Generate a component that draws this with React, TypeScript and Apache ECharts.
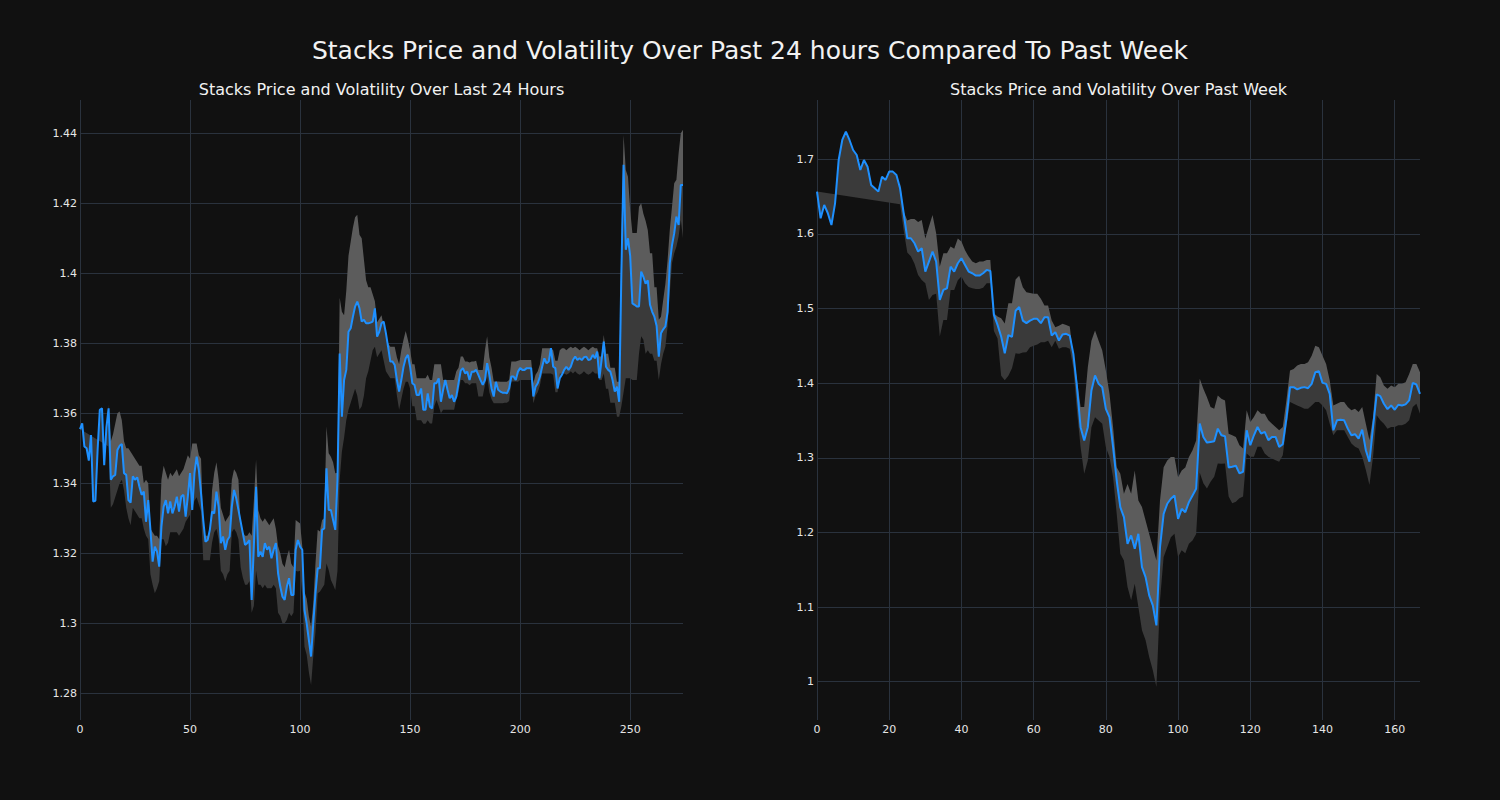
import React, { useEffect, useRef } from "react";
import * as echarts from "echarts";

const N = null;

// ---------- Left panel: last 24 hours ----------
const dayXTicks = [0, 50, 100, 150, 200, 250];
const dayYTicks = [1.28, 1.3, 1.32, 1.34, 1.36, 1.38, 1.4, 1.42, 1.44];

const dayPrice = [
  1.3555, 1.3571, 1.3505, 1.35, 1.3465, 1.3538, 1.3348, 1.335, 1.3495, 1.361,
  1.3614, 1.3452, 1.356, 1.3614, 1.341, 1.342, 1.3424, 1.3495, 1.3507, 1.3512,
  1.3429, 1.3424, 1.3352, 1.3345, 1.342, 1.341, 1.3417, 1.339, 1.3367, 1.3376,
  1.329, 1.3352, 1.3267, 1.3176, 1.3219, 1.3205, 1.3162, 1.3276, 1.3333, 1.3352,
  1.3314, 1.3348, 1.3314, 1.3333, 1.3362, 1.3319, 1.3362, 1.3367, 1.3305, 1.3362,
  1.3429, 1.3324, 1.3429, 1.3476, 1.3438, 1.3371, 1.3295, 1.3233, 1.3238, 1.3267,
  1.3319, 1.3314, 1.3376, 1.3333, 1.3229, 1.3248, 1.321, 1.3238, 1.3248, 1.3333,
  1.3381, 1.3357, 1.3324, 1.329, 1.3257, 1.3224, 1.3229, 1.3238, 1.3067, 1.322,
  1.339, 1.319, 1.3205, 1.319, 1.3229, 1.321, 1.3219, 1.3186, 1.321, 1.3229,
  1.3143, 1.3105, 1.3076, 1.3067, 1.3105, 1.3129, 1.3081, 1.3081, 1.321, 1.3238,
  1.3219, 1.321, 1.3038, 1.3, 1.2952, 1.2905, 1.3, 1.3086, 1.3157, 1.3157,
  1.3267, 1.3271, 1.3443, 1.3324, 1.3324, 1.3295, 1.3267, 1.341, 1.3771, 1.359,
  1.3695, 1.3724, 1.3833, 1.3843, 1.3876, 1.3905, 1.3919, 1.39, 1.3862, 1.3867,
  1.3857, 1.3857, 1.3859, 1.3862, 1.39, 1.3819, 1.3833, 1.3857, 1.3862, 1.3829,
  1.379, 1.3748, 1.3748, 1.3738, 1.3695, 1.3662, 1.3695, 1.3733, 1.3757, 1.3767,
  1.3733, 1.3686, 1.3681, 1.3652, 1.3652, 1.3671, 1.361, 1.361, 1.3657, 1.3619,
  1.3614, 1.3686, 1.3686, 1.37, 1.3633, 1.3667, 1.3695, 1.3667, 1.3643, 1.3652,
  1.3633, 1.3648, 1.3686, 1.3722, 1.3729, 1.3714, 1.3719, 1.3695, 1.3719, 1.3719,
  1.3724, 1.371, 1.3695, 1.3681, 1.3695, 1.3743, 1.371, 1.3671, 1.3648, 1.369,
  1.3667, 1.3662, 1.3659, 1.3659, 1.3657, 1.3671, 1.3705, 1.3705, 1.3695, 1.3719,
  1.3729, 1.3724, 1.3724, 1.3729, 1.3729, 1.3729, 1.3648, 1.3676, 1.3686, 1.3705,
  1.3733, 1.3757, 1.3743, 1.3748, 1.3786, 1.3733, 1.3729, 1.3671, 1.37, 1.371,
  1.3724, 1.3733, 1.3724, 1.3733, 1.3752, 1.3762, 1.3752, 1.3757, 1.3752, 1.376,
  1.3762, 1.3752, 1.3754, 1.3767, 1.3757, 1.3776, 1.37, 1.3752, 1.3805, 1.3733,
  1.3724, 1.3719, 1.3695, 1.3662, 1.3676, 1.3633, 1.4, 1.431, 1.4067, 1.41,
  1.405, 1.3914, 1.391, 1.3905, 1.3905, 1.4005, 1.399, 1.397, 1.398, 1.391,
  1.389, 1.3876, 1.385, 1.3762, 1.3829, 1.384, 1.3848, 1.389, 1.4029, 1.408,
  1.4114, 1.4162, 1.4138, 1.4252, 1.4252,
];

const dayUpper = [
  N, N, N, N, N, N, N, N, N, N,
  N, N, N, 1.3625, 1.352, 1.354, 1.357, 1.36, 1.3605, 1.358,
  1.352, 1.35, 1.35, 1.349, 1.348, 1.347, 1.346, 1.345, 1.345, 1.34,
  1.341, 1.34, 1.327, 1.326, 1.325, 1.325, 1.324, 1.341, 1.345, 1.343,
  1.341, 1.343, 1.342, 1.343, 1.344, 1.342, 1.343, 1.344, 1.346, 1.348,
  1.347, 1.3514, 1.3514, 1.3514, 1.348, 1.347, 1.327, 1.325, 1.325, 1.324,
  1.338, 1.343, 1.346, 1.341, 1.333, 1.331, 1.329, 1.33, 1.331, 1.341,
  1.344, 1.343, 1.341, 1.327, 1.326, 1.325, 1.325, 1.326, 1.325, 1.335,
  1.3467, 1.3324, 1.33, 1.329, 1.33, 1.329, 1.328, 1.329, 1.33, 1.327,
  1.322, 1.32, 1.317, 1.316, 1.319, 1.321, 1.317, 1.316, 1.3295, 1.329,
  1.3285, 1.322, 1.309, 1.307, 1.302, 1.299, 1.3057, 1.3171, 1.3267, 1.3262,
  1.3295, 1.33, 1.3562, 1.3486, 1.3476, 1.346, 1.3429, 1.343, 1.393, 1.389,
  1.388, 1.395, 1.405, 1.409, 1.413, 1.416, 1.4167, 1.411, 1.41, 1.404,
  1.398, 1.396, 1.396, 1.394, 1.392, 1.386, 1.387, 1.388, 1.385, 1.382,
  1.38, 1.379, 1.379, 1.379, 1.376, 1.374, 1.378, 1.381, 1.3835, 1.381,
  1.378, 1.374, 1.374, 1.37, 1.37, 1.37, 1.37, 1.37, 1.371, 1.3695,
  1.3695, 1.374, 1.374, 1.374, 1.374, 1.3695, 1.3695, 1.3695, 1.3695, 1.3695,
  1.3695, 1.372, 1.373, 1.3762, 1.3762, 1.3748, 1.3748, 1.3745, 1.3748, 1.3748,
  1.375, 1.3724, 1.3724, 1.3724, 1.378, 1.382, 1.376, 1.373, 1.3691, 1.3691,
  1.3691, 1.369, 1.369, 1.369, 1.369, 1.3695, 1.3748, 1.3748, 1.3748, 1.375,
  1.3752, 1.3752, 1.3752, 1.3752, 1.3752, 1.3752, 1.3686, 1.371, 1.372, 1.374,
  1.3786, 1.3786, 1.3786, 1.3786, 1.3786, 1.378, 1.375, 1.375, 1.378, 1.3786,
  1.3786, 1.378, 1.3786, 1.379, 1.3786, 1.379, 1.3786, 1.378, 1.3786, 1.379,
  1.3786, 1.378, 1.3786, 1.379, 1.3786, 1.3786, 1.3762, 1.3762, 1.3824, 1.377,
  1.377, 1.373, 1.373, 1.373, 1.369, 1.369, 1.41, 1.4395, 1.4295, 1.4276,
  1.418, 1.4115, 1.4115, 1.4115, 1.419, 1.42, 1.417, 1.415, 1.4124, 1.4057,
  1.4057, 1.396, 1.396, 1.3867, 1.3876, 1.3924, 1.397, 1.4038, 1.4124, 1.419,
  1.4257, 1.4267, 1.4343, 1.44, 1.441,
];

const dayLower = [
  N, N, N, N, N, N, N, N, N, N,
  N, N, N, 1.3505, 1.333, 1.334, 1.336, 1.338, 1.34, 1.341,
  1.338, 1.333, 1.33, 1.328, 1.333, 1.332, 1.331, 1.33, 1.33, 1.327,
  1.325, 1.324, 1.314, 1.311, 1.3086, 1.31, 1.312, 1.324, 1.324, 1.322,
  1.323, 1.326, 1.326, 1.326, 1.326, 1.325, 1.326, 1.327, 1.329, 1.33,
  1.331, 1.333, 1.335, 1.336, 1.334, 1.332, 1.318, 1.318, 1.318, 1.318,
  1.323, 1.326, 1.327, 1.324, 1.315, 1.314, 1.312, 1.314, 1.315, 1.326,
  1.327, 1.326, 1.324, 1.316, 1.313, 1.311, 1.311, 1.312, 1.303, 1.305,
  1.315, 1.311, 1.311, 1.31, 1.311, 1.31, 1.31, 1.31, 1.311, 1.31,
  1.303, 1.302, 1.3, 1.3, 1.301, 1.303, 1.302, 1.303, 1.315, 1.3148,
  1.315, 1.308, 1.2933, 1.291, 1.286, 1.2824, 1.2905, 1.2975, 1.3086, 1.309,
  1.31, 1.311, 1.3171, 1.3152, 1.3124, 1.311, 1.3095, 1.315, 1.341, 1.349,
  1.353, 1.358, 1.361, 1.363, 1.365, 1.367, 1.365, 1.361, 1.362, 1.365,
  1.37, 1.372, 1.375, 1.378, 1.379, 1.376, 1.377, 1.378, 1.375, 1.372,
  1.371, 1.37, 1.37, 1.37, 1.365, 1.361, 1.364, 1.367, 1.369, 1.369,
  1.367, 1.362, 1.362, 1.358, 1.358, 1.358, 1.357, 1.357, 1.358, 1.3571,
  1.3571, 1.362, 1.3638, 1.362, 1.36, 1.361, 1.361, 1.361, 1.361, 1.361,
  1.361, 1.364, 1.366, 1.3695, 1.3695, 1.3686, 1.3686, 1.368, 1.3686, 1.3686,
  1.3686, 1.3648, 1.3648, 1.3648, 1.368, 1.3705, 1.366, 1.364, 1.3629, 1.3629,
  1.3629, 1.3629, 1.3629, 1.363, 1.363, 1.3635, 1.3691, 1.3691, 1.3691, 1.369,
  1.3695, 1.3695, 1.3695, 1.3695, 1.3695, 1.3695, 1.3629, 1.365, 1.366, 1.368,
  1.3714, 1.3714, 1.3714, 1.3714, 1.3714, 1.371, 1.366, 1.366, 1.3714, 1.3714,
  1.3714, 1.371, 1.3714, 1.372, 1.3714, 1.372, 1.3714, 1.371, 1.3714, 1.372,
  1.3714, 1.371, 1.3714, 1.372, 1.3714, 1.3714, 1.3695, 1.3695, 1.3714, 1.367,
  1.367, 1.363, 1.363, 1.363, 1.359, 1.359, 1.362, 1.366, 1.37, 1.37,
  1.37, 1.3695, 1.3695, 1.3695, 1.377, 1.382, 1.381, 1.377, 1.378, 1.377,
  1.377, 1.375, 1.375, 1.3695, 1.374, 1.377, 1.379, 1.3848, 1.3943, 1.4029,
  1.4057, 1.4076, 1.4105, 1.4152, 1.41,
];

// straight edge of the shaded area before the rolling band starts
const dayBandAnchors = [
  [0, 1.3555],
  [13, 1.3505],
];

// ---------- Right panel: past week ----------
const weekXTicks = [0, 20, 40, 60, 80, 100, 120, 140, 160];
const weekYTicks = [1, 1.1, 1.2, 1.3, 1.4, 1.5, 1.6, 1.7];

const weekPrice = [
  1.6567, 1.621, 1.6388, 1.6277, 1.612, 1.641, 1.699, 1.7259, 1.737, 1.7259,
  1.7125, 1.7058, 1.6857, 1.699, 1.69, 1.6656, 1.6612, 1.6567, 1.6768, 1.6723,
  1.6835, 1.6835, 1.679, 1.6612, 1.6277, 1.5942, 1.5942, 1.5875, 1.5763, 1.5808,
  1.5496, 1.563, 1.5763, 1.563, 1.5116, 1.525, 1.5272, 1.5563, 1.5496, 1.5607,
  1.5674, 1.5585, 1.5496, 1.5473, 1.5442, 1.5442, 1.5473, 1.5518, 1.5504, 1.4915,
  1.4781, 1.4625, 1.44, 1.4645, 1.462, 1.497, 1.502, 1.4839, 1.4804, 1.4839,
  1.4862, 1.4862, 1.4804, 1.4884, 1.4884, 1.4638, 1.4683, 1.4571, 1.4652, 1.4661,
  1.4638, 1.4393, 1.3946, 1.3411, 1.3232, 1.3411, 1.3902, 1.4103, 1.3991, 1.3946,
  1.3656, 1.3545, 1.3143, 1.2696, 1.2339, 1.2205, 1.1848, 1.196, 1.1781, 1.1982,
  1.1536, 1.1402, 1.1156, 1.1022, 1.0754, 1.1804, 1.225, 1.2384, 1.2451, 1.2496,
  1.2183, 1.2317, 1.2272, 1.2406, 1.2496, 1.2585, 1.3458, 1.328, 1.3204, 1.3213,
  1.3222, 1.3391, 1.3302, 1.3289, 1.2871, 1.288, 1.2893, 1.2791, 1.2813, 1.3369,
  1.3169, 1.3302, 1.3413, 1.3324, 1.3347, 1.3236, 1.328, 1.328, 1.3147, 1.3182,
  1.3524, 1.3947, 1.3947, 1.3916, 1.3938, 1.3947, 1.3933, 1.3991, 1.4147, 1.416,
  1.4004, 1.3991, 1.3858, 1.3369, 1.3502, 1.3511, 1.3502, 1.3391, 1.3302, 1.3316,
  1.3258, 1.3378, 1.3102, 1.2947, 1.3413, 1.3849, 1.3827, 1.3724, 1.3653, 1.3702,
  1.3644, 1.3711, 1.3702, 1.3716, 1.3769, 1.4004, 1.3982, 1.3858,
];

const weekUpper = [
  N, N, N, N, N, N, N, N, N, N,
  N, N, N, N, N, N, N, N, N, N,
  N, N, N, 1.668, 1.63, 1.618, 1.62, 1.62, 1.616, 1.6188,
  1.594, 1.61, 1.6254, 1.601, 1.556, 1.574, 1.574, 1.583, 1.58, 1.594,
  1.5897, 1.578, 1.5696, 1.563, 1.5607, 1.563, 1.563, 1.565, 1.565, 1.4937,
  1.4893, 1.487, 1.48, 1.507, 1.507, 1.539, 1.544, 1.5286, 1.522, 1.521,
  1.52, 1.52, 1.513, 1.504, 1.504, 1.4839, 1.475, 1.477, 1.4795, 1.478,
  1.476, 1.436, 1.405, 1.368, 1.368, 1.4214, 1.457, 1.4705, 1.457, 1.4437,
  1.417, 1.3857, 1.341, 1.2875, 1.2786, 1.2518, 1.265, 1.2518, 1.283, 1.2429,
  1.234, 1.216, 1.198, 1.18, 1.1625, 1.243, 1.2875, 1.2964, 1.301, 1.301,
  1.274, 1.283, 1.287, 1.301, 1.31, 1.3232, 1.4058, 1.3924, 1.3813, 1.368,
  1.3658, 1.3836, 1.3791, 1.3769, 1.3324, 1.3302, 1.328, 1.3169, 1.3124, 1.3636,
  1.348, 1.3547, 1.3636, 1.3591, 1.3591, 1.3502, 1.3458, 1.3413, 1.3369, 1.3413,
  1.3769, 1.4169, 1.4191, 1.4236, 1.4258, 1.4258, 1.428, 1.4369, 1.4502, 1.448,
  1.4369, 1.4258, 1.4036, 1.3702, 1.3724, 1.3747, 1.3747, 1.368, 1.3636, 1.3658,
  1.3613, 1.368, 1.3458, 1.3236, 1.3547, 1.4124, 1.408, 1.3969, 1.3924, 1.3969,
  1.3947, 1.3991, 1.3991, 1.4013, 1.4124, 1.4258, 1.4258, 1.4147,
];

const weekLower = [
  N, N, N, N, N, N, N, N, N, N,
  N, N, N, N, N, N, N, N, N, N,
  N, N, N, 1.6397, 1.605, 1.575, 1.57, 1.56, 1.545, 1.5384,
  1.534, 1.5116, 1.518, 1.52, 1.4625, 1.4848, 1.4848, 1.525, 1.525, 1.538,
  1.543, 1.534, 1.529, 1.5272, 1.5263, 1.5263, 1.528, 1.534, 1.534, 1.47,
  1.46, 1.41, 1.404, 1.41, 1.42, 1.44, 1.4393, 1.441, 1.4415, 1.448,
  1.45, 1.452, 1.455, 1.4549, 1.457, 1.448, 1.457, 1.446, 1.448, 1.448,
  1.446, 1.42, 1.363, 1.3143, 1.2786, 1.2964, 1.341, 1.3545, 1.35, 1.3455,
  1.314, 1.301, 1.274, 1.225, 1.1714, 1.1625, 1.1268, 1.109, 1.1313, 1.1,
  1.0688, 1.0554, 1.033, 1.0152, 0.993, 1.109, 1.167, 1.18, 1.1937, 1.1982,
  1.167, 1.176, 1.172, 1.185, 1.1893, 1.198, 1.28, 1.2658, 1.259, 1.268,
  1.2747, 1.2924, 1.292, 1.2924, 1.248, 1.2391, 1.241, 1.2458, 1.248, 1.3058,
  1.3013, 1.3013, 1.3147, 1.3147, 1.3058, 1.3013, 1.299, 1.2969, 1.2947, 1.3036,
  1.3413, 1.3747, 1.3724, 1.3702, 1.368, 1.3658, 1.3658, 1.3702, 1.3747, 1.3747,
  1.3702, 1.3636, 1.3458, 1.3302, 1.3369, 1.3369, 1.3369, 1.328, 1.3191, 1.3147,
  1.3124, 1.3013, 1.2836, 1.2636, 1.3013, 1.3569, 1.3502, 1.3458, 1.3391, 1.3413,
  1.3413, 1.3436, 1.3436, 1.3458, 1.3502, 1.368, 1.3724, 1.3591,
];

const weekBandAnchors = [
  [0, 1.657],
  [23, 1.6397],
];

// ---------- styling ----------
const BG = "#111111";
const GRID_COLOR = "#2a323d";
const TXT = "#e6e6e6";
const LIGHT = "rgb(92,92,92)";
const DARK = "rgb(58,58,58)";
const BLUE = "#1e90ff";
const FONT = "DejaVu Sans";

function bandSeries(idx: number, price: number[], upper: any[], lower: any[], anchors: number[][]) {
  return {
    type: "custom",
    xAxisIndex: idx,
    yAxisIndex: idx,
    silent: true,
    z: 1,
    data: [[anchors[0][0], anchors[0][1]]],
    renderItem: (_params: any, api: any) => {
      const pt = (x: number, y: number) => api.coord([x, y]);
      let s = -1;
      let e = -1;
      for (let i = 0; i < upper.length; i++) {
        if (upper[i] != null) {
          if (s < 0) s = i;
          e = i;
        }
      }
      const lightPts: number[][] = [];
      const darkPts: number[][] = [];
      const artPts: number[][] = [];
      for (let i = s; i <= e; i++) lightPts.push(pt(i, upper[i]));
      for (let i = e; i >= s; i--) lightPts.push(pt(i, price[i]));
      for (let i = s; i <= e; i++) darkPts.push(pt(i, price[i]));
      for (let i = e; i >= s; i--) darkPts.push(pt(i, lower[i]));
      const a0 = anchors[0];
      const a1 = anchors[1];
      for (let i = a0[0]; i <= a1[0]; i++) artPts.push(pt(i, price[i]));
      artPts.push(pt(a1[0], a1[1]));
      artPts.push(pt(a0[0], a0[1]));
      return {
        type: "group",
        children: [
          { type: "polygon", shape: { points: artPts }, style: { fill: DARK } },
          { type: "polygon", shape: { points: lightPts }, style: { fill: LIGHT } },
          { type: "polygon", shape: { points: darkPts }, style: { fill: DARK } },
        ],
      };
    },
  };
}

function lineSeries(idx: number, price: number[]) {
  return {
    type: "line",
    xAxisIndex: idx,
    yAxisIndex: idx,
    data: price.map((v, i) => [i, v]),
    showSymbol: false,
    symbol: "none",
    silent: true,
    z: 3,
    lineStyle: { color: BLUE, width: 2 },
  };
}

const fmt = (v: number) => String(parseFloat(v.toFixed(4)));

function xAxis(idx: number, max: number, ticks: number[]) {
  return {
    type: "value",
    gridIndex: idx,
    min: 0,
    max,
    axisLine: { show: false },
    axisTick: { show: false, customValues: ticks },
    axisLabel: {
      color: TXT,
      fontSize: 11,
      fontFamily: FONT,
      margin: 4,
      customValues: ticks,
      formatter: fmt,
    },
    splitLine: { show: true, lineStyle: { color: GRID_COLOR, width: 1 } },
  };
}

function yAxis(idx: number, min: number, max: number, ticks: number[]) {
  return {
    type: "value",
    gridIndex: idx,
    min,
    max,
    axisLine: { show: false },
    axisTick: { show: false, customValues: ticks },
    axisLabel: {
      color: TXT,
      fontSize: 11,
      fontFamily: FONT,
      margin: 3,
      customValues: ticks,
      formatter: fmt,
    },
    splitLine: { show: true, lineStyle: { color: GRID_COLOR, width: 1 } },
  };
}

export default function App() {
  const ref = useRef<HTMLDivElement>(null);

  useEffect(() => {
    document.body.style.margin = "0";
    document.body.style.background = BG;
    if (!ref.current) return;
    const chart = echarts.init(ref.current, null, { renderer: "svg" });
    chart.setOption({
      animation: false,
      backgroundColor: BG,
      textStyle: { fontFamily: FONT },
      grid: [
        { left: 80, right: 817, top: 100, bottom: 80 },
        { left: 817, right: 80, top: 100, bottom: 80 },
      ],
      xAxis: [xAxis(0, 274, dayXTicks), xAxis(1, 167, weekXTicks)],
      yAxis: [
        yAxis(0, 1.27237, 1.44951, dayYTicks),
        yAxis(1, 0.94868, 1.77946, weekYTicks),
      ],
      graphic: [
        {
          type: "text",
          x: 750,
          y: 50,
          silent: true,
          style: {
            text: "Stacks Price and Volatility Over Past 24 hours Compared To Past Week",
            fill: "#f2f2f2",
            font: '25px "DejaVu Sans"',
            textAlign: "center",
            textVerticalAlign: "middle",
          },
        },
        {
          type: "text",
          x: 381.5,
          y: 89,
          silent: true,
          style: {
            text: "Stacks Price and Volatility Over Last 24 Hours",
            fill: "#f2f2f2",
            font: '16px "DejaVu Sans"',
            textAlign: "center",
            textVerticalAlign: "middle",
          },
        },
        {
          type: "text",
          x: 1118.5,
          y: 89,
          silent: true,
          style: {
            text: "Stacks Price and Volatility Over Past Week",
            fill: "#f2f2f2",
            font: '16px "DejaVu Sans"',
            textAlign: "center",
            textVerticalAlign: "middle",
          },
        },
      ],
      series: [
        bandSeries(0, dayPrice, dayUpper, dayLower, dayBandAnchors),
        lineSeries(0, dayPrice),
        bandSeries(1, weekPrice, weekUpper, weekLower, weekBandAnchors),
        lineSeries(1, weekPrice),
      ],
    });
    return () => chart.dispose();
  }, []);

  return (
    <div
      ref={ref}
      style={{ position: "fixed", left: 0, top: 0, width: 1500, height: 800, background: BG }}
    />
  );
}
